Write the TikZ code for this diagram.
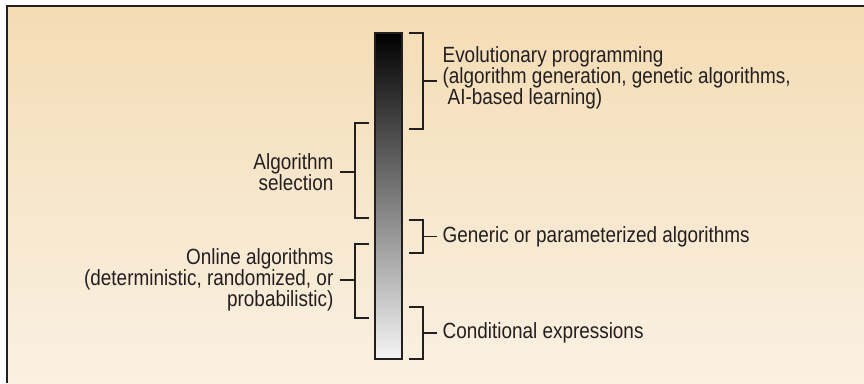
\documentclass[tikz,border=0pt]{standalone}
\usepackage{fontspec}
\setmainfont{Liberation Sans}[FakeStretch=0.86]
\usetikzlibrary{positioning}
\definecolor{bgtop}{HTML}{F4DCB4}
\definecolor{bgbot}{HTML}{FAF1E3}
\definecolor{ink}{HTML}{231F20}

\begin{document}
\begin{tikzpicture}[x=1pt, y=-1pt, ink, line width=1.3pt,
  note/.style={inner sep=0pt, font=\fontsize{22}{20.8}\selectfont},
  bar/.style={draw, line width=1.5pt, inner sep=0pt, minimum width=27pt, minimum height=326pt,
    top color=black, bottom color=white!96!black}]
\useasboundingbox (0,0) rectangle (864,383);
% panel
\shade[top color=bgtop, bottom color=bgbot] (7,6) rectangle (864,383);
\draw[line width=1.6pt] (7,383) -- (7,6) -- (864,6);

% scale bar
\node[bar] (bar) at (388.5,196) {};

% right brackets
\draw (409,33) -| (423,129) -- (409,129);
\coordinate (evomid) at (423,81);
\coordinate (evotip) at (437,81);
\draw (evomid) -- (evotip);
\node[note, align=left, right=5pt of evotip, yshift=3pt] (evo) {Evolutionary programming\\(algorithm generation, genetic algorithms,\\\hspace{5pt}AI-based learning)};

\draw (409,220) -| (423,253) -- (409,253);
\coordinate (genmid) at (423,236.5);
\coordinate (gentip) at (437,236.5);
\draw (genmid) -- (gentip);
\node[note, right=5pt of gentip] (gen) {Generic or parameterized algorithms};

\draw (409,307) -| (423,359) -- (409,359);
\coordinate (condmid) at (423,333);
\coordinate (condtip) at (437,333);
\draw (condmid) -- (condtip);
\node[note, right=5pt of condtip] (cond) {Conditional expressions};

% left brackets
\draw (369,123) -| (355,218) -- (369,218);
\coordinate (selmid) at (355,172);
\coordinate (seltip) at (340,172);
\draw (selmid) -- (seltip);
\node[note, align=right, left=6pt of seltip] (sel) {Algorithm\\selection};

\draw (369,244) -| (355,318) -- (369,318);
\coordinate (onmid) at (355,280);
\coordinate (ontip) at (340,280);
\draw (onmid) -- (ontip);
\node[note, align=right, left=6pt of ontip] (online) {Online algorithms\\(deterministic, randomized, or\\probabilistic)};
\end{tikzpicture}
\end{document}
